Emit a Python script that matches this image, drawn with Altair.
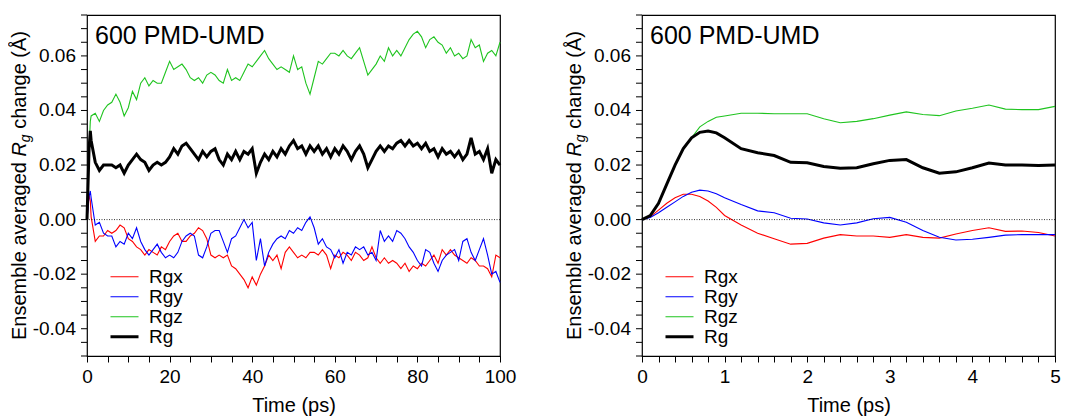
import altair as alt
import pandas as pd

SERIES = ["Rgx", "Rgy", "Rgz", "Rg"]
COLORS = ["#ff0000", "#0000ff", "#1fc41f", "#000000"]
WIDTHS = [1.1, 1.1, 1.1, 3.0]
PANEL_LABEL = "600 PMD-UMD"

# ---- Left panel: 0-100 ps ----
L_T = [0, 0.5, 0.8] + list(range(1, 101))
L_RGX = [0, 0.0093, 0.0068,
         0.001, -0.008, -0.006, -0.006, -0.004, -0.005, -0.004, -0.002, -0.003, -0.007,
         -0.008, -0.010, -0.011, -0.013, -0.011, -0.012, -0.013, -0.010, -0.011, -0.008,
         -0.006, -0.005, -0.008, -0.008, -0.006, -0.005, -0.003, -0.004, -0.007, -0.013,
         -0.014, -0.013, -0.014, -0.013, -0.017, -0.018, -0.020, -0.022, -0.025, -0.021,
         -0.024, -0.020, -0.017, -0.013, -0.015, -0.013, -0.018, -0.012, -0.010, -0.012,
         -0.014, -0.013, -0.014, -0.012, -0.012, -0.013, -0.011, -0.013, -0.018, -0.013,
         -0.014, -0.012, -0.013, -0.015, -0.012, -0.013, -0.015, -0.014, -0.010, -0.014,
         -0.016, -0.014, -0.016, -0.015, -0.016, -0.018, -0.016, -0.019, -0.017, -0.018,
         -0.016, -0.017, -0.015, -0.013, -0.016, -0.011, -0.013, -0.011, -0.013, -0.014,
         -0.015, -0.016, -0.014, -0.015, -0.017, -0.017, -0.018, -0.021, -0.013, -0.014]
L_RGY = [0, 0.0085, 0.0105,
         0.008, -0.002, -0.001, -0.005, -0.006, -0.006, -0.010, -0.008, -0.009, -0.005,
         -0.007, -0.003, -0.008, -0.011, -0.013, -0.011, -0.009, -0.012, -0.014, -0.013,
         -0.014, -0.012, -0.008, -0.006, -0.005, -0.006, -0.013, -0.014, -0.010, -0.005,
         -0.004, -0.004, -0.008, -0.012, -0.007, -0.006, -0.003, 0.000, -0.003, -0.001,
         -0.015, -0.007, -0.017, -0.012, -0.009, -0.007, -0.006, -0.007, -0.004, -0.005,
         -0.003, -0.004, -0.001, 0.001, -0.003, -0.009, -0.007, -0.010, -0.011, -0.014,
         -0.011, -0.016, -0.012, -0.013, -0.010, -0.011, -0.010, -0.013, -0.012, -0.015,
         -0.004, -0.008, -0.006, -0.008, -0.004, -0.005, -0.007, -0.010, -0.012, -0.015,
         -0.017, -0.011, -0.012, -0.016, -0.019, -0.015, -0.013, -0.012, -0.011, -0.015,
         -0.008, -0.007, -0.012, -0.015, -0.011, -0.007, -0.013, -0.020, -0.019, -0.023]
L_RGZ = [0, 0.026, 0.036,
         0.038, 0.039, 0.036, 0.040, 0.042, 0.043, 0.046, 0.043, 0.038, 0.041,
         0.047, 0.044, 0.050, 0.052, 0.049, 0.051, 0.050, 0.050, 0.054, 0.058,
         0.055, 0.056, 0.057, 0.055, 0.052, 0.051, 0.052, 0.050, 0.053, 0.054,
         0.053, 0.051, 0.050, 0.055, 0.051, 0.052, 0.051, 0.054, 0.057, 0.056,
         0.058, 0.060, 0.062, 0.059, 0.057, 0.055, 0.056, 0.055, 0.054, 0.060,
         0.055, 0.056, 0.050, 0.046, 0.052, 0.058, 0.057, 0.059, 0.061, 0.061,
         0.060, 0.062, 0.060, 0.059, 0.061, 0.063, 0.058, 0.053, 0.055, 0.057,
         0.060, 0.058, 0.063, 0.060, 0.062, 0.060, 0.063, 0.066, 0.068, 0.069,
         0.067, 0.063, 0.066, 0.067, 0.065, 0.064, 0.061, 0.063, 0.060, 0.061,
         0.059, 0.060, 0.066, 0.063, 0.064, 0.058, 0.061, 0.062, 0.060, 0.065]
L_RG = [0, 0.026, 0.0325,
        0.029, 0.021, 0.018, 0.020, 0.020, 0.020, 0.019, 0.020, 0.017, 0.020,
        0.022, 0.024, 0.022, 0.021, 0.018, 0.020, 0.021, 0.020, 0.021, 0.023,
        0.026, 0.024, 0.027, 0.028, 0.026, 0.024, 0.022, 0.025, 0.023, 0.025,
        0.026, 0.022, 0.020, 0.024, 0.022, 0.025, 0.022, 0.025, 0.024, 0.026,
        0.017, 0.021, 0.024, 0.022, 0.025, 0.023, 0.026, 0.024, 0.027, 0.029,
        0.026, 0.027, 0.024, 0.027, 0.025, 0.027, 0.024, 0.026, 0.023, 0.026,
        0.024, 0.027, 0.025, 0.022, 0.025, 0.027, 0.024, 0.019, 0.022, 0.025,
        0.027, 0.025, 0.027, 0.026, 0.028, 0.029, 0.027, 0.029, 0.027, 0.028,
        0.026, 0.028, 0.025, 0.026, 0.023, 0.026, 0.024, 0.025, 0.023, 0.025,
        0.022, 0.024, 0.030, 0.024, 0.025, 0.022, 0.026, 0.017, 0.022, 0.020]

# ---- Right panel: 0-5 ps ----
R_T = [0, 0.1, 0.2, 0.3, 0.4, 0.5, 0.6, 0.7, 0.8, 0.9, 1.0,
       1.2, 1.4, 1.6, 1.8, 2.0, 2.2, 2.4, 2.6, 2.8, 3.0,
       3.2, 3.4, 3.6, 3.8, 4.0, 4.2, 4.4, 4.6, 4.8, 5.0]
R_RGX = [0, 0.001, 0.0035, 0.006, 0.008, 0.0093, 0.0093, 0.0085, 0.0068, 0.0045, 0.0015,
         -0.002, -0.005, -0.007, -0.009, -0.0087, -0.0068, -0.0055, -0.006, -0.006, -0.0065,
         -0.0055, -0.0065, -0.0068, -0.0053, -0.004, -0.003, -0.0043, -0.0042, -0.0047, -0.006]
R_RGY = [0, 0.0008, 0.0025, 0.0045, 0.0065, 0.0085, 0.0100, 0.0108, 0.0105, 0.0095, 0.0080,
         0.0055, 0.0032, 0.0025, 0.0005, 0.0002, -0.0012, -0.002, -0.0012, 0.0003, 0.0008,
         -0.001, -0.004, -0.0065, -0.0075, -0.0072, -0.0065, -0.0057, -0.0055, -0.0055, -0.0055]
R_RGZ = [0, 0.0015, 0.006, 0.013, 0.020, 0.026, 0.030, 0.034, 0.036, 0.0375, 0.038,
         0.039, 0.039, 0.0388, 0.0388, 0.0388, 0.037, 0.0355, 0.036, 0.037, 0.0383,
         0.0395, 0.0385, 0.0381, 0.0398, 0.0408, 0.042, 0.0405, 0.0403, 0.0403, 0.0415]
R_RG = [0, 0.0015, 0.006, 0.013, 0.020, 0.026, 0.030, 0.032, 0.0325, 0.0318, 0.030,
        0.026, 0.0245, 0.0235, 0.021, 0.0208, 0.0195, 0.0188, 0.019, 0.0205, 0.0217,
        0.022, 0.019, 0.017, 0.0175, 0.019, 0.0207, 0.020, 0.020, 0.0198, 0.020]

Y_DOMAIN = [-0.05, 0.075]
Y_TICKS = [round(-0.05 + 0.005 * i, 3) for i in range(26)]
Y_LABELED = [-0.04, -0.02, 0.0, 0.02, 0.04, 0.06]
Y_LABEL_TEXT = ["-0.04", "-0.02", "0.00", "0.02", "0.04", "0.06"]

FONT = "Liberation Sans"
W, H = 413, 341

# Arial/Liberation Sans advance widths (per 1000 em) for the axis title pieces
AW = {"E": 667, "n": 556, "s": 500, "e": 556, "m": 833, "b": 556, "l": 222, " ": 278,
      "a": 556, "v": 500, "r": 333, "g": 556, "d": 556, "c": 500, "h": 556, "(": 333,
      "Å": 667, ")": 333, "R": 722}


def tw(s, fs):
    return sum(AW[c] for c in s) / 1000.0 * fs


def y_title_layers():
    fs, fsub = 20, 14
    p1, p2, p3, p4 = "Ensemble averaged", "R", "g", "change (Å)"
    sp = tw(" ", fs)
    w1, w2, w3, w4 = tw(p1, fs) + sp, tw(p2, fs), tw(p3, fsub) + sp, tw(p4, fs)
    total = w1 + w2 + w3 + w4
    y0 = H / 2 + total / 2
    xt = -61
    base = alt.Chart(pd.DataFrame({"a": [0]}))
    common = dict(angle=270, align="left", baseline="alphabetic", font=FONT, color="black")
    return [
        base.mark_text(text=p1, fontSize=fs, **common).encode(x=alt.value(xt), y=alt.value(y0)),
        base.mark_text(text=p2, fontSize=fs, fontStyle="italic", **common).encode(
            x=alt.value(xt), y=alt.value(y0 - w1)),
        base.mark_text(text=p3, fontSize=fsub, fontStyle="italic", **common).encode(
            x=alt.value(xt + 4), y=alt.value(y0 - w1 - w2)),
        base.mark_text(text=p4, fontSize=fs, **common).encode(
            x=alt.value(xt), y=alt.value(y0 - w1 - w2 - w3)),
    ]


def y_axis_layers():
    ticks = alt.Chart(pd.DataFrame({"v": Y_TICKS})).mark_rule(
        color="black", strokeWidth=1).encode(
        y=alt.Y("v:Q", axis=None), x=alt.value(-6), x2=alt.value(0))
    labels = alt.Chart(pd.DataFrame({"v": Y_LABELED, "lab": Y_LABEL_TEXT})).mark_text(
        align="right", baseline="middle", fontSize=19, font=FONT, color="black").encode(
        y=alt.Y("v:Q", axis=None), x=alt.value(-11), text="lab:N")
    return [ticks, labels]


def panel(t, rgx, rgy, rgz, rg, xmax, xstep, label_expr):
    rows = []
    for name, vals in zip(SERIES, [rgx, rgy, rgz, rg]):
        for ti, v in zip(t, vals):
            rows.append({"t": ti, "v": v, "s": name})
    df = pd.DataFrame(rows)
    xticks = [round(i * xstep, 4) for i in range(int(round(xmax / xstep)) + 1)]

    leg = dict(title=None, orient="none", legendX=22, legendY=252, symbolType="stroke",
               symbolSize=784, labelFontSize=19, labelFont=FONT, labelColor="black",
               clipHeight=19.5, rowPadding=0, padding=0, labelOffset=9)

    x_enc = alt.X("t:Q", scale=alt.Scale(domain=[0, xmax], nice=False, zero=False),
                  axis=alt.Axis(values=xticks, labelExpr=label_expr, title="Time (ps)",
                                labelOverlap=False, labelFlush=False, labelPadding=5,
                                titlePadding=9, titleFontSize=20))
    y_enc = alt.Y("v:Q", scale=alt.Scale(domain=Y_DOMAIN, nice=False, zero=False), axis=None)

    lines = alt.Chart(df).mark_line().encode(
        x=x_enc,
        y=y_enc,
        color=alt.Color("s:N", scale=alt.Scale(domain=SERIES, range=COLORS),
                        legend=alt.Legend(**leg), sort=SERIES),
        strokeWidth=alt.StrokeWidth("s:N", scale=alt.Scale(type="ordinal", domain=SERIES,
                                                           range=WIDTHS),
                                    legend=alt.Legend(**leg), sort=SERIES),
    )
    zero = alt.Chart(pd.DataFrame({"v": [0.0]})).mark_rule(
        color="black", strokeDash=[1, 1.5], strokeWidth=0.8).encode(
        y=alt.Y("v:Q", axis=None))
    label = alt.Chart(pd.DataFrame({"a": [0]})).mark_text(
        text=PANEL_LABEL, fontSize=25, font=FONT, align="left", baseline="alphabetic",
        color="black").encode(x=alt.value(8), y=alt.value(28.5))
    return alt.layer(lines, zero, label, *y_axis_layers(), *y_title_layers()).properties(
        width=W, height=H)


left = panel(L_T, L_RGX, L_RGY, L_RGZ, L_RG, 100, 5,
             "datum.value % 20 == 0 ? datum.label : ''")
right = panel(R_T, R_RGX, R_RGY, R_RGZ, R_RG, 5, 0.2,
              "abs(datum.value - round(datum.value)) < 0.001 ? format(datum.value, 'd') : ''")

chart = (
    alt.hconcat(left, right, spacing=47)
    .resolve_scale(x="independent", y="independent", color="independent",
                   strokeWidth="independent")
    .resolve_legend(color="independent", strokeWidth="independent")
    .properties(padding={"left": 1, "top": 5, "right": 5, "bottom": 0}, background="white")
    .configure_view(stroke="black", strokeWidth=1.2)
    .configure_axis(grid=False, domainColor="black", tickColor="black", labelColor="black",
                    titleColor="black", labelFont=FONT, titleFont=FONT, labelFontSize=19,
                    titleFontSize=20, titleFontWeight="normal", tickSize=6, domainWidth=1.2,
                    tickWidth=1)
)

chart.save("out.html", embed_options={"renderer": "svg", "actions": False})
